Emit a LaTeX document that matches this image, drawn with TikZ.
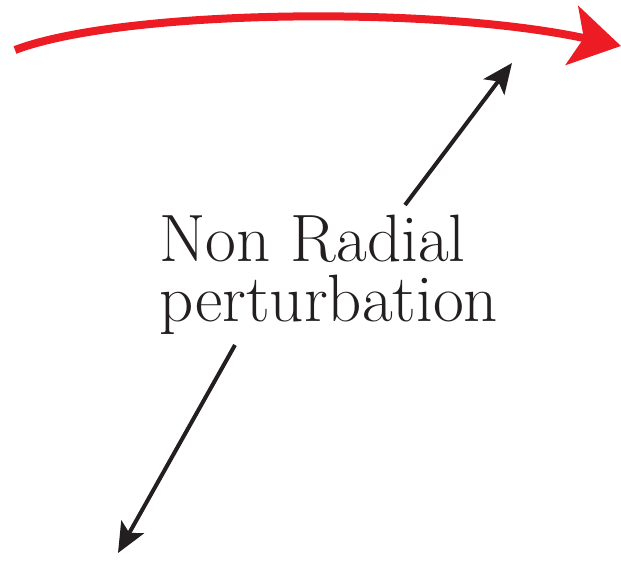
\documentclass[tikz,border=0pt]{standalone}
\usepackage{tikz}
\usetikzlibrary{positioning,arrows.meta}
\definecolor{flowred}{RGB}{237,28,36}
\definecolor{inkblack}{RGB}{35,31,32}

\begin{document}
\begin{tikzpicture}[x=1pt,y=-1pt, every node/.style={font=\fontsize{67}{60}\selectfont},
    pertarrow/.style={-{Stealth[length=30pt,width=26pt,inset=7pt]}, line width=4pt, inkblack}]
      \useasboundingbox (0,0) rectangle (621,561);
      \node[inkblack, align=left, anchor=base west, inner sep=0pt] (label) at (159,322) {Non Radial\\perturbation};
      \coordinate (uptail) at (405,205);
      \coordinate (uphead) at (512,63);
      \coordinate (downtail) at (235,345);
      \coordinate (downhead) at (118,553);
      \coordinate (arcstart) at (15,50);
      \coordinate (arcend) at (621,46);
      \draw[-{Stealth[length=50pt,width=60pt,inset=12pt]}, line width=8pt, flowred] (arcstart) .. controls (120,10) and (430,5) .. (arcend);
      \draw[pertarrow] (uptail) -- (uphead);
      \draw[pertarrow] (downtail) -- (downhead);
    \end{tikzpicture}
\end{document}
